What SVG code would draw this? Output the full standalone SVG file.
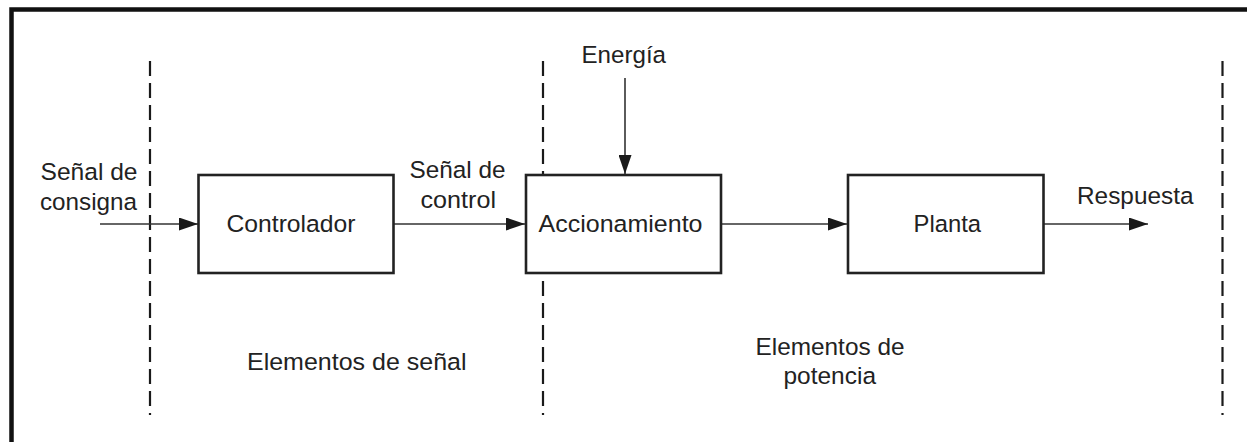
<svg xmlns="http://www.w3.org/2000/svg" width="1247" height="442" viewBox="0 0 1247 442">
  <defs>
    <marker id="arrow" viewBox="0 0 19 13" refX="19" refY="6.5" markerWidth="19" markerHeight="13" markerUnits="userSpaceOnUse" orient="auto">
      <path d="M0,0 L19,6.5 L0,13 Z" fill="#1a1a1a"/>
    </marker>
    <style>
      .frame { fill: none; stroke: #111; stroke-width: 4.5; }
      .divider { stroke: #1a1a1a; stroke-width: 2.2; stroke-dasharray: 15 7; fill: none; }
      .block { fill: #fff; stroke: #222; stroke-width: 2.6; }
      .link { stroke: #333; stroke-width: 1.6; fill: none; marker-end: url(#arrow); }
      text { font-family: "Liberation Sans", Arial, sans-serif; font-size: 24.5px; fill: #222; }
    </style>
  </defs>

  <rect width="1247" height="442" fill="#fff"/>
  <!-- outer frame (open on right and bottom) -->
  <path class="frame" d="M11.5,442 V9.5 H1247"/>

  <!-- region dividers -->
  <g id="dividers">
    <line class="divider" x1="150" y1="61" x2="150" y2="415"/>
    <line class="divider" x1="543" y1="61" x2="543" y2="415"/>
    <line class="divider" x1="1222.5" y1="61" x2="1222.5" y2="415" stroke-width="1.6"/>
  </g>

  <!-- connectors -->
  <g id="connectors">
    <line class="link" x1="100" y1="224" x2="198" y2="224"/>
    <line class="link" x1="394" y1="224" x2="525" y2="224"/>
    <line class="link" x1="722" y1="224" x2="847" y2="224"/>
    <line class="link" x1="1044" y1="224" x2="1148" y2="224"/>
    <line class="link" x1="625" y1="78" x2="625" y2="174"/>
  </g>

  <g id="controlador">
    <rect class="block" x="198.5" y="175" width="195" height="98"/>
    <text x="226.5" y="232" textLength="129" lengthAdjust="spacingAndGlyphs">Controlador</text>
  </g>

  <g id="accionamiento">
    <rect class="block" x="526" y="175" width="195" height="98"/>
    <text x="538.5" y="231.5" textLength="164" lengthAdjust="spacingAndGlyphs">Accionamiento</text>
  </g>

  <g id="planta">
    <rect class="block" x="848" y="175" width="195.5" height="98"/>
    <text x="913.5" y="232" textLength="67.5" lengthAdjust="spacingAndGlyphs">Planta</text>
  </g>

  <!-- signal labels -->
  <g id="labels">
    <text x="40.5" y="179.5" textLength="97" lengthAdjust="spacingAndGlyphs">Señal de</text>
    <text x="40" y="209.5" textLength="97" lengthAdjust="spacingAndGlyphs">consigna</text>
    <text x="409.5" y="178" textLength="96" lengthAdjust="spacingAndGlyphs">Señal de</text>
    <text x="420.5" y="207.5" textLength="75.5" lengthAdjust="spacingAndGlyphs">control</text>
    <text x="581.5" y="63" textLength="84.5" lengthAdjust="spacingAndGlyphs">Energía</text>
    <text x="1077" y="203.5" textLength="116.5" lengthAdjust="spacingAndGlyphs">Respuesta</text>
    <text x="247" y="369.5" textLength="219.5" lengthAdjust="spacingAndGlyphs">Elementos de señal</text>
    <text x="755.5" y="354.5" textLength="149" lengthAdjust="spacingAndGlyphs">Elementos de</text>
    <text x="783.5" y="383.5" textLength="92.5" lengthAdjust="spacingAndGlyphs">potencia</text>
  </g>
</svg>
